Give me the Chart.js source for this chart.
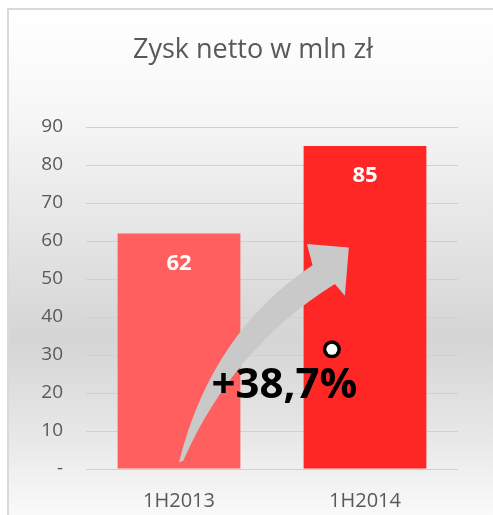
<!DOCTYPE html>
<html><head><meta charset="utf-8">
<script src="https://cdn.jsdelivr.net/npm/chart.js@4"></script>
<style>html,body{margin:0;padding:0;background:#fff;} #wrap{width:493px;height:515px;position:relative;} canvas{display:block}</style>
</head><body><div id="wrap"><canvas id="c" width="493" height="515"></canvas></div>
<script>
// ---- data ----
const categories = ['1H2013', '1H2014'];
const profit = [62, 85];
const barColors = ['#FF5F5F', '#FF2626'];
const yMin = 0, yMax = 90, yStep = 10;
const zeroTickLabel = '-';
const changeLabel = '+38,7%';
const titleText = 'Zysk netto w mln zł';

const FONT = '"Open Sans", "DejaVu Sans", sans-serif';

const bgPlugin = {
  id: 'bg',
  beforeDraw(chart) {
    const ctx = chart.ctx, w = chart.width, h = chart.height;
    ctx.save();
    ctx.fillStyle = '#ffffff'; ctx.fillRect(0, 0, w, h);
    const g = ctx.createLinearGradient(0, 10, 0, h);
    g.addColorStop(0, '#ffffff');
    g.addColorStop(0.18, '#f8f8f8');
    g.addColorStop(0.4, '#e8e8e8');
    g.addColorStop(0.65, '#d5d5d5');
    g.addColorStop(0.85, '#e8e8e8');
    g.addColorStop(1, '#fafafa');
    ctx.fillStyle = g; ctx.fillRect(9, 10, w - 9, h - 10);
    ctx.strokeStyle = '#d9d9d9'; ctx.lineWidth = 2;
    ctx.strokeRect(8, 9, w + 20, h + 20);
    // title (centred on the whole frame)
    ctx.fillStyle = '#595959';
    ctx.font = '27px ' + FONT;
    ctx.textAlign = 'center'; ctx.textBaseline = 'middle';
    ctx.fillText(titleText, 253, 50);
    ctx.restore();
  }
};

const decoPlugin = {
  id: 'deco',
  afterDatasetsDraw(chart) {
    const ctx = chart.ctx;
    const xs = chart.scales.x, ys = chart.scales.y;
    const x0 = xs.getPixelForValue(0), step = xs.getPixelForValue(1) - x0;
    const P = (u, v) => [x0 + u * step, ys.getPixelForValue(v)];

    // value labels inside bars
    const meta = chart.getDatasetMeta(0);
    ctx.save();
    ctx.fillStyle = '#ffffff';
    ctx.font = 'bold 22px ' + FONT;
    ctx.textAlign = 'center'; ctx.textBaseline = 'middle';
    meta.data.forEach((el, i) => {
      ctx.fillText(String(profit[i]), el.x, el.y + 30);
    });

    // curved growth arrow
    const T = P(0, 1.8), Cu = P(0.175, 36), U = P(0.718, 53.6), W1 = P(0.688, 59.2),
          Tip = P(0.913, 58.3), W2 = P(0.892, 45.6), L = P(0.838, 48.7), Cl = P(0.29, 32), T2 = P(0.022, 2.1);
    ctx.beginPath();
    ctx.moveTo(T[0], T[1]);
    ctx.quadraticCurveTo(Cu[0], Cu[1], U[0], U[1]);
    ctx.lineTo(W1[0], W1[1]);
    ctx.lineTo(Tip[0], Tip[1]);
    ctx.lineTo(W2[0], W2[1]);
    ctx.lineTo(L[0], L[1]);
    ctx.quadraticCurveTo(Cl[0], Cl[1], T2[0], T2[1]);
    ctx.closePath();
    ctx.fillStyle = '#c9c9c9';
    ctx.fill();

    // change text
    const tp = P(0.567, 18.7);
    ctx.fillStyle = '#000000';
    ctx.font = 'bold 42px ' + FONT;
    ctx.textAlign = 'center'; ctx.textBaseline = 'alphabetic';
    ctx.fillText(changeLabel, tp[0], tp[1]);

    // small ring
    const cp = P(0.822, 31.5);
    ctx.beginPath(); ctx.arc(cp[0], cp[1], 9, 0, Math.PI * 2);
    ctx.fillStyle = '#000'; ctx.fill();
    ctx.beginPath(); ctx.arc(cp[0], cp[1], 5.5, 0, Math.PI * 2);
    ctx.fillStyle = '#fff'; ctx.fill();
    ctx.restore();
  }
};

new Chart(document.getElementById('c'), {
  type: 'bar',
  data: {
    labels: categories,
    datasets: [{ data: profit, backgroundColor: barColors, borderWidth: 0,
                 categoryPercentage: 1, barPercentage: 0.66 }]
  },
  options: {
    responsive: false,
    animation: false,
    devicePixelRatio: 1,
    layout: { padding: { left: 8, right: 35, top: 127, bottom: 0 } },
    plugins: {
      legend: { display: false },
      tooltip: { enabled: false },
      title: { display: false }
    },
    scales: {
      x: {
        grid: { display: false }, border: { display: false },
        ticks: { color: '#595959', font: { family: FONT, size: 20 }, padding: 12 },
        afterFit(s) { s.height = 46; }
      },
      y: {
        min: yMin, max: yMax,
        grid: { color: '#d0d0d0', lineWidth: 1, drawTicks: false },
        border: { display: false },
        ticks: { stepSize: yStep, color: '#595959', font: { family: FONT, size: 19 }, padding: 23,
                 callback: v => v === 0 ? zeroTickLabel : String(v) },
        afterFit(s) { s.width = 78; }
      }
    }
  },
  plugins: [bgPlugin, decoPlugin]
});
</script></body></html>
